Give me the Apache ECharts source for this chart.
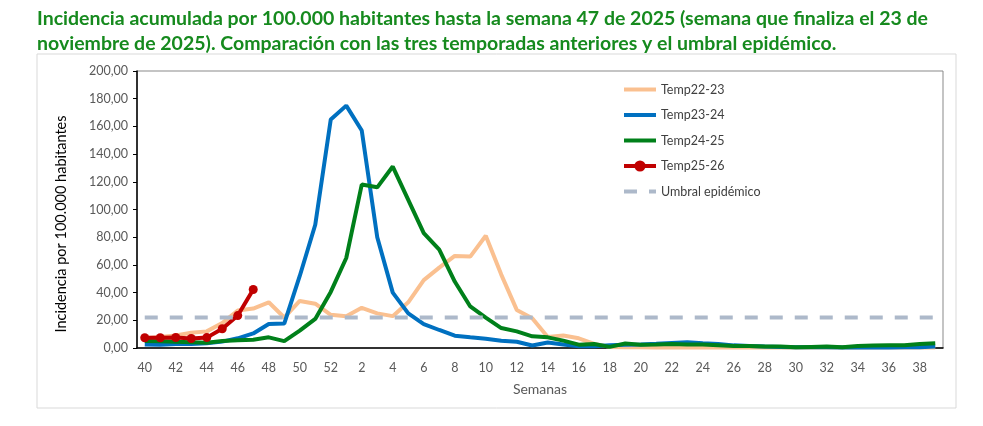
<!DOCTYPE html>
<html>
<head>
<meta charset="utf-8">
<script src="https://cdn.jsdelivr.net/npm/echarts@6/dist/echarts.min.js"></script>
<style>
html, body { margin: 0; padding: 0; background: #fff; }
#main { width: 983px; height: 426px; }
</style>
</head>
<body>
<div id="main"></div>
<script>
var weeks = ['40','41','42','43','44','45','46','47','48','49','50','51','52',
    '1','2','3','4','5','6','7','8','9','10','11','12','13','14','15','16','17','18','19','20',
    '21','22','23','24','25','26','27','28','29','30','31','32','33','34','35','36','37','38','39'];

var temp2223 = [7, 8, 9, 11, 12, 18, 27, 28.5, 33, 22, 34, 32, 24,
    23, 29, 25, 23, 33, 49, 58, 66.5, 66, 81, 53, 27.5, 21.5, 8, 9, 7, 3, 0.8, 0.5, 0.5,
    0.4, 0.3, 0.3, 0.3, 0.3, 0.3, 0.3, 0.3, 0.3, 0.3, 0.3, 0.3, 0.3, 0.3, 0.3, 0.3, 0.3, 0.3, 0.3];

var temp2324 = [2.6, 2.4, 2.8, 2.9, 3.4, 4.6, 7, 10.5, 17.3, 17.6, 52, 89, 165,
    175, 157, 80, 40, 25, 17.3, 13, 8.9, 7.7, 6.7, 5.3, 4.5, 1.8, 4, 2.5, 1.2, 1.2, 1.9, 2.4, 2.5,
    3, 3.6, 4.2, 3.5, 2.9, 1.9, 1.4, 1.0, 0.8, 0.6, 0.5, 0.5, 0.4, 0.4, 0.4, 0.4, 0.5, 0.6, 1.0];

var temp2425 = [5, 4.8, 4.6, 4.2, 3.8, 5, 5.6, 6, 7.7, 5, 12.5, 21, 40.5,
    65, 118, 116, 131, 107, 83, 71, 48, 30, 22, 14.4, 12, 8.4, 7.7, 5.3, 2.4, 2.9, 0.8, 3.2, 2.4,
    2.5, 2.9, 2.6, 2.5, 2, 1.4, 1.4, 1.1, 1, 0.6, 0.8, 1, 0.6, 1.4, 1.8, 1.9, 2, 2.9, 3.4];

var temp2526 = [7.4, 7.4, 7.6, 6.9, 7.5, 13.9, 23.4, 42.2];

var umbral = weeks.map(function () { return 22.1; });

var fontName = 'Lato';
var noMarker = { opacity: 0 };

var myChart = echarts.init(document.getElementById('main'));
option = {
    backgroundColor: '#fff',
    animation: false,
    textStyle: { fontFamily: fontName },
    title: {
        text: 'Incidencia acumulada por 100.000 habitantes hasta la semana 47 de 2025 (semana que finaliza el 23 de\nnoviembre de 2025). Comparación con las tres temporadas anteriores y el umbral epidémico.',
        left: 32,
        top: 1,
        textStyle: {
            color: '#168a1e',
            fontSize: 19.5,
            fontWeight: 'bold',
            fontFamily: fontName,
            lineHeight: 25
        }
    },
    graphic: [
        {
            type: 'rect',
            shape: { x: 37, y: 54, width: 919, height: 354 },
            style: { fill: 'none', stroke: '#d9d9d9', lineWidth: 1 },
            silent: true
        },
        {
            type: 'text',
            x: 61,
            y: 224,
            rotation: Math.PI / 2,
            style: {
                text: 'Incidencia por 100.000 habitantes',
                fill: '#000',
                font: '14.5px ' + fontName,
                textAlign: 'center',
                textVerticalAlign: 'middle'
            }
        }
    ],
    legend: {
        orient: 'vertical',
        left: 617,
        top: 78,
        itemWidth: 32,
        itemHeight: 14,
        itemGap: 12.5,
        lineStyle: { width: 4 },
        textStyle: { color: '#404040', fontSize: 12.5, fontFamily: fontName },
        data: [
            { name: 'Temp22-23', itemStyle: noMarker },
            { name: 'Temp23-24', itemStyle: noMarker },
            { name: 'Temp24-25', itemStyle: noMarker },
            { name: 'Temp25-26' },
            { name: 'Umbral epidémico', itemStyle: noMarker }
        ]
    },
    grid: {
        left: 137,
        right: 40,
        top: 71,
        bottom: 78,
        show: true,
        borderColor: '#898989',
        borderWidth: 1
    },
    xAxis: {
        type: 'category',
        data: weeks,
        name: 'Semanas',
        nameLocation: 'middle',
        nameGap: 34,
        nameTextStyle: { color: '#595959', fontSize: 14 },
        axisLine: { lineStyle: { color: '#000', width: 1.5 } },
        axisTick: { inside: true, interval: 0, length: 5, lineStyle: { color: '#000' } },
        axisLabel: { interval: 1, color: '#595959', fontSize: 12.5, margin: 13 }
    },
    yAxis: {
        type: 'value',
        min: 0,
        max: 200,
        interval: 20,
        axisLine: { show: true, lineStyle: { color: '#000', width: 1.5 } },
        axisTick: { show: true, length: 4, lineStyle: { color: '#000' } },
        splitLine: { show: false },
        axisLabel: {
            color: '#595959',
            fontSize: 12.5,
            margin: 9,
            formatter: function (v) { return v.toFixed(2).replace('.', ','); }
        }
    },
    series: [
        {
            name: 'Temp22-23',
            type: 'line',
            data: temp2223,
            symbol: 'none',
            color: '#fac090',
            lineStyle: { width: 4, color: '#fac090' }
        },
        {
            name: 'Temp23-24',
            type: 'line',
            data: temp2324,
            symbol: 'none',
            color: '#0070c0',
            lineStyle: { width: 4, color: '#0070c0' }
        },
        {
            name: 'Temp24-25',
            type: 'line',
            data: temp2425,
            symbol: 'none',
            color: '#00801a',
            lineStyle: { width: 4, color: '#00801a' }
        },
        {
            name: 'Temp25-26',
            type: 'line',
            data: temp2526,
            symbol: 'circle',
            symbolSize: 9,
            color: '#c00000',
            itemStyle: { color: '#c00000' },
            lineStyle: { width: 4, color: '#c00000' }
        },
        {
            name: 'Umbral epidémico',
            type: 'line',
            data: umbral,
            symbol: 'none',
            color: '#adb9ca',
            lineStyle: { width: 4, color: '#adb9ca', type: [13, 12] }
        }
    ]
};

myChart.setOption(option);
</script>
</body>
</html>
